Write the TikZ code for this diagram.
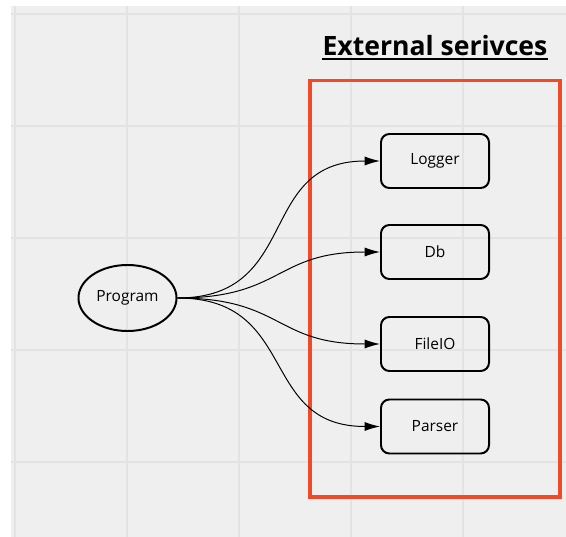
\documentclass[tikz,border=0pt]{standalone}
\usepackage{fontspec}
\setmainfont{Open Sans}
\usetikzlibrary{arrows.meta,shapes.geometric}
\definecolor{bgGray}{HTML}{EFEFEF}
\definecolor{gridGray}{HTML}{E3E3E3}
\definecolor{extRed}{HTML}{F04A28}
\tikzset{
    svc/.style={draw, line width=1.4pt, rounded corners=6pt, minimum width=2.7cm, minimum height=1.35cm, font=\fontsize{11}{13}\selectfont}, % service boxes
    link/.style={-{Latex[length=11pt,width=6.5pt]}, line width=0.7pt, out=0, in=180, looseness=1.3} % curved connectors
}

\begin{document}
\begin{tikzpicture}[x=0.025cm, y=-0.025cm]
    \useasboundingbox (0,0) rectangle (566,537);
    \fill[bgGray] (11,6) rectangle (566,537);
    \foreach \g in {15,127,...,566} {\draw[gridGray, line width=1pt] (\g,6) -- (\g,537);}
    \foreach \g in {14,126,...,537} {\draw[gridGray, line width=1pt] (11,\g) -- (566,\g);}

    % title and box around the services
    \node[font=\fontsize{18.9}{21}\selectfont\bfseries, anchor=base, inner sep=0pt] (title) at (435,55.5) {External serivces};
    \draw[line width=1.8pt] ([yshift=-2.6pt]title.base west) -- ([yshift=-2.6pt]title.base east);
    \draw[extRed, line width=2.8pt] (310,80.5) rectangle (560,497);

    \node[draw, ellipse, line width=1.4pt, inner sep=0pt, minimum width=2.45cm, minimum height=1.65cm, font=\fontsize{11}{13}\selectfont] (prog) at (127.5,298) {Program};
    \node[svc] (logger) at (435,161) {Logger};
    \node[svc] (db) at (435,252) {Db};
    \node[svc] (fileio) at (435,344) {FileIO};
    \node[svc] (parser) at (435,426.5) {Parser};

    \foreach \t in {logger,db,fileio,parser} {\draw[link] (prog.east) to (\t.west);}
\end{tikzpicture}
\end{document}
